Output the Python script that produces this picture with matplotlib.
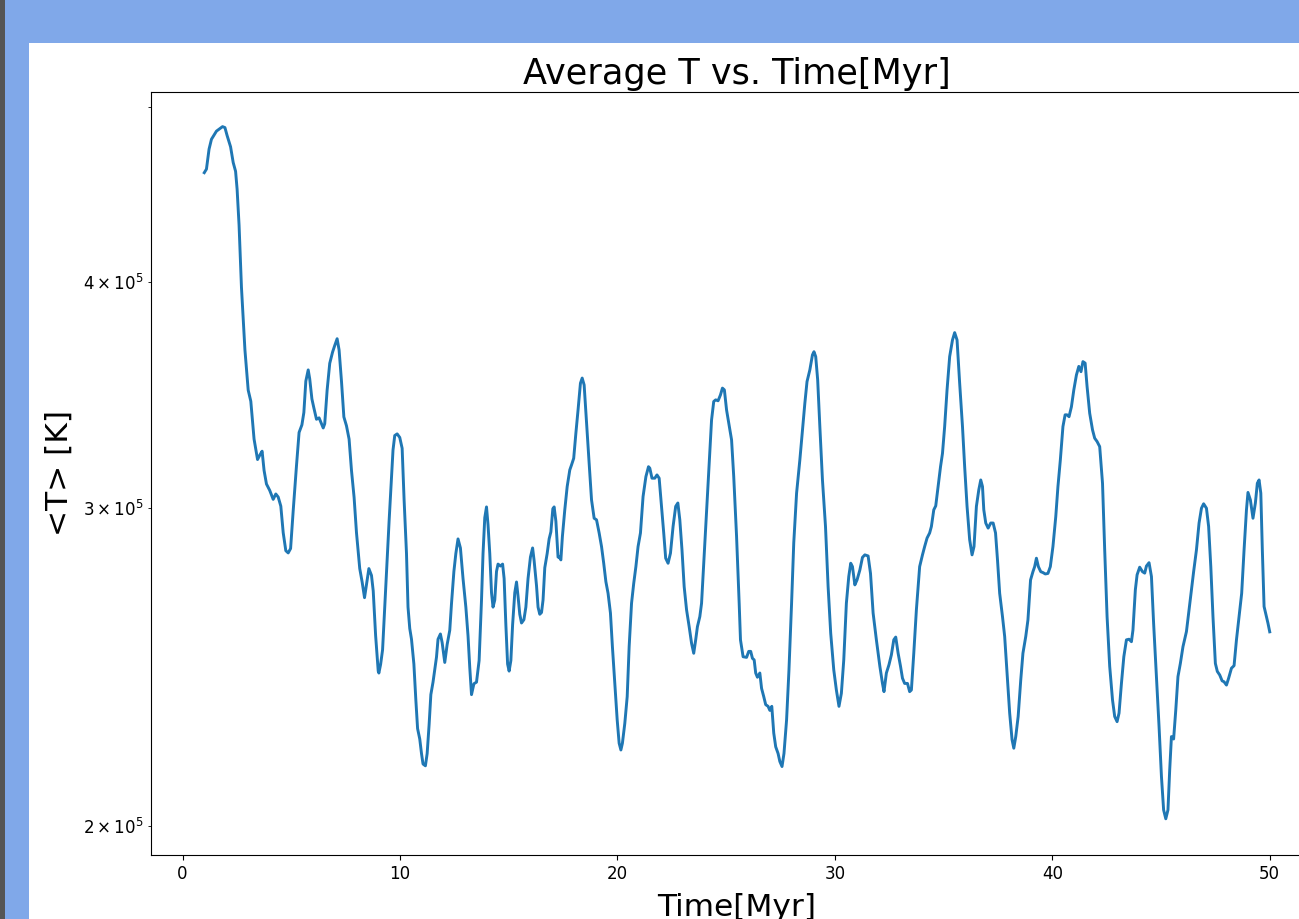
import numpy as np
import matplotlib
matplotlib.use("Agg")
import matplotlib.pyplot as plt
from matplotlib.patches import Rectangle

# time [Myr] and mean temperature [10^3 K]
time_myr = [
    1.00, 1.10, 1.22, 1.33, 1.56, 1.84, 1.95, 2.05, 2.21, 2.33, 2.44, 2.51, 2.60, 2.71, 2.87,
    3.02, 3.14, 3.29, 3.45, 3.56, 3.66, 3.75, 3.86, 4.01, 4.17, 4.29, 4.40, 4.52, 4.63, 4.75,
    4.86, 4.97, 5.09, 5.24, 5.36, 5.49, 5.58, 5.67, 5.78, 5.85, 5.95, 6.04, 6.16, 6.28, 6.39,
    6.47, 6.54, 6.65, 6.77, 6.90, 7.00, 7.11, 7.20, 7.31, 7.42, 7.54, 7.66, 7.77, 7.89, 8.00,
    8.15, 8.26, 8.37, 8.46, 8.57, 8.69, 8.77, 8.88, 9.00, 9.03, 9.11, 9.20, 9.30, 9.41, 9.50,
    9.61, 9.68, 9.76, 9.87, 9.99, 10.10, 10.19, 10.30, 10.37, 10.45, 10.53, 10.64, 10.73, 10.81,
    10.91, 10.99, 11.06, 11.17, 11.25, 11.34, 11.42, 11.52, 11.60, 11.68, 11.75, 11.86, 11.94,
    12.06, 12.17, 12.29, 12.37, 12.48, 12.57, 12.67, 12.78, 12.90, 13.03, 13.13, 13.21, 13.29,
    13.40, 13.52, 13.64, 13.75, 13.82, 13.90, 13.98, 14.05, 14.13, 14.21, 14.28, 14.36, 14.44,
    14.51, 14.62, 14.72, 14.79, 14.87, 14.95, 15.02, 15.10, 15.18, 15.28, 15.36, 15.43, 15.51,
    15.59, 15.70, 15.79, 15.89, 16.00, 16.10, 16.17, 16.28, 16.35, 16.43, 16.51, 16.58, 16.66,
    16.77, 16.86, 16.94, 17.03, 17.09, 17.17, 17.27, 17.32, 17.40, 17.47, 17.58, 17.69, 17.81,
    17.89, 17.99, 18.09, 18.19, 18.30, 18.38, 18.47, 18.58, 18.70, 18.81, 18.93, 19.04, 19.16,
    19.27, 19.37, 19.47, 19.57, 19.68, 19.77, 19.88, 19.99, 20.08, 20.16, 20.23, 20.34, 20.45,
    20.54, 20.65, 20.75, 20.85, 20.95, 21.06, 21.18, 21.31, 21.43, 21.49, 21.59, 21.72, 21.82,
    21.92, 22.03, 22.13, 22.22, 22.33, 22.44, 22.56, 22.68, 22.78, 22.87, 22.97, 23.07, 23.18,
    23.30, 23.41, 23.51, 23.60, 23.68, 23.79, 23.87, 23.97, 24.10, 24.22, 24.33, 24.43, 24.52,
    24.63, 24.74, 24.83, 24.92, 25.02, 25.12, 25.25, 25.35, 25.48, 25.60, 25.66, 25.78, 25.94,
    26.04, 26.13, 26.21, 26.29, 26.36, 26.44, 26.55, 26.63, 26.73, 26.82, 26.93, 27.01, 27.10,
    27.19, 27.28, 27.39, 27.47, 27.57, 27.66, 27.78, 27.89, 28.01, 28.11, 28.24, 28.39, 28.51,
    28.62, 28.72, 28.85, 28.97, 29.04, 29.12, 29.21, 29.31, 29.43, 29.57, 29.69, 29.81, 29.95,
    30.07, 30.19, 30.30, 30.41, 30.53, 30.64, 30.73, 30.81, 30.92, 31.02, 31.15, 31.27, 31.38,
    31.53, 31.64, 31.76, 31.91, 32.07, 32.19, 32.26, 32.37, 32.49, 32.60, 32.71, 32.80, 32.91,
    33.02, 33.11, 33.21, 33.34, 33.44, 33.52, 33.63, 33.75, 33.90, 34.03, 34.13, 34.24, 34.36,
    34.44, 34.55, 34.64, 34.75, 34.86, 34.95, 35.05, 35.16, 35.28, 35.41, 35.51, 35.62, 35.74,
    35.87, 35.97, 36.08, 36.20, 36.31, 36.40, 36.51, 36.62, 36.71, 36.79, 36.85, 36.94, 37.05,
    37.17, 37.28, 37.39, 37.48, 37.58, 37.71, 37.81, 37.92, 38.04, 38.15, 38.23, 38.32, 38.43,
    38.55, 38.65, 38.78, 38.88, 39.00, 39.11, 39.19, 39.27, 39.36, 39.47, 39.57, 39.68, 39.80,
    39.91, 40.03, 40.16, 40.26, 40.37, 40.49, 40.59, 40.68, 40.77, 40.88, 40.99, 41.11, 41.22,
    41.32, 41.41, 41.51, 41.60, 41.72, 41.85, 41.95, 42.06, 42.18, 42.31, 42.41, 42.52, 42.64,
    42.77, 42.87, 42.98, 43.07, 43.18, 43.29, 43.41, 43.53, 43.64, 43.71, 43.82, 43.90, 44.02,
    44.15, 44.25, 44.33, 44.45, 44.56, 44.66, 44.79, 44.91, 45.02, 45.12, 45.22, 45.32, 45.40,
    45.48, 45.58, 45.68, 45.78, 45.89, 46.01, 46.17, 46.29, 46.40, 46.50, 46.63, 46.75, 46.86,
    46.96, 47.09, 47.19, 47.29, 47.39, 47.50, 47.59, 47.70, 47.81, 47.90, 48.01, 48.11, 48.24,
    48.36, 48.47, 48.59, 48.71, 48.82, 48.93, 49.00, 49.11, 49.23, 49.34, 49.43, 49.51, 49.59,
    49.66, 49.74, 49.85, 49.92, 50.00,
]
temp_kK = [
    459.8, 461.9, 473.8, 479.8, 484.8, 487.6, 487.0, 482.1, 475.2, 465.8, 460.6, 450.2, 430.1, 397.3, 366.8,
    348.5, 343.6, 327.4, 319.0, 320.9, 322.4, 314.6, 309.2, 306.7, 303.2, 305.3, 304.1, 300.6, 290.6, 284.0,
    283.2, 284.8, 298.9, 316.4, 330.2, 333.4, 338.7, 352.5, 357.6, 353.5, 344.6, 340.7, 335.8, 336.4, 333.9,
    332.1, 333.9, 348.5, 360.6, 365.8, 368.9, 372.1, 366.8, 352.5, 336.8, 333.0, 327.4, 314.6, 304.0, 290.6,
    277.6, 272.9, 267.5, 272.1, 277.6, 275.2, 269.8, 254.9, 243.6, 243.0, 245.7, 250.3, 264.3, 280.4, 294.9,
    311.4, 322.9, 328.9, 329.6, 328.1, 323.6, 303.0, 283.0, 264.3, 257.2, 253.7, 245.8, 234.8, 226.4,
    223.4, 219.3, 216.4, 215.9, 219.3, 227.5, 236.4, 240.2, 244.1, 248.0, 253.7, 255.4, 252.6,
    246.3, 252.0, 256.6, 265.5, 276.6, 283.0, 288.3, 285.0, 274.1, 264.3, 254.8, 244.7, 236.4,
    239.7, 240.2, 246.9, 266.7, 283.0, 296.2, 300.3, 293.5, 283.0, 269.2, 264.3, 266.7, 276.6,
    279.2, 278.5, 279.2, 274.1, 258.4, 245.8, 243.6, 246.9, 258.4, 269.2, 272.9, 268.0, 261.9,
    259.0, 260.1, 264.3, 274.1, 281.7, 285.0, 280.4, 271.6, 264.3, 261.9, 262.5, 266.7, 277.9,
    283.0, 288.3, 290.9, 299.6, 300.3, 294.9, 281.7, 281.8, 280.7, 289.2, 299.2, 308.2, 314.8,
    316.8, 319.5, 329.9, 339.8, 351.6, 353.9, 350.8, 334.1, 317.5, 303.0, 296.0, 295.4, 290.5,
    285.5, 279.5, 273.0, 269.0, 262.3, 251.3, 239.8, 228.9, 222.2, 220.3, 222.2, 227.9, 235.8,
    251.3, 265.6, 272.4, 278.3, 285.5, 290.5, 304.3, 312.1, 316.1, 315.5, 311.5, 311.5, 312.8,
    311.5, 300.5, 290.5, 281.3, 279.5, 283.1, 292.9, 300.5, 301.8, 295.4, 284.3, 271.3, 263.4,
    257.8, 252.4, 249.2, 253.5, 257.8, 261.1, 265.6, 279.5, 297.9, 317.5, 335.5, 343.5, 344.2,
    343.8, 346.4, 349.4, 348.6, 339.8, 334.1, 327.1, 312.1, 289.2, 265.6, 253.5, 248.1, 247.9,
    249.8, 249.8, 247.6, 247.1, 243.0, 241.7, 243.0, 238.3, 235.8, 233.4, 232.9, 231.7, 232.9,
    225.1, 221.2, 219.3, 217.1, 215.7, 219.3, 228.9, 244.0, 265.6, 286.8, 305.6, 318.8, 331.3,
    342.7, 352.3, 357.6, 364.5, 366.0, 363.7, 353.1, 332.7, 310.8, 292.9, 271.3, 255.6, 244.0,
    237.8, 232.9, 236.8, 247.1, 265.6, 274.8, 279.5, 278.3, 271.9, 273.6, 277.1, 281.6, 282.5,
    282.1, 275.9, 262.3, 253.5, 245.1, 239.8, 237.3, 243.0, 245.6, 248.7, 253.5, 254.4, 249.2,
    245.1, 241.4, 239.8, 239.8, 237.3, 237.8, 249.2, 263.4, 278.3, 282.5, 285.5, 288.6, 290.5,
    292.9, 299.2, 300.7, 308.2, 316.1, 321.5, 332.7, 348.6, 363.7, 371.5, 375.0, 371.5, 351.6,
    332.7, 316.1, 300.5, 288.0, 282.5, 285.5, 300.5, 306.9, 310.8, 308.2, 299.2, 294.2, 292.3,
    294.2, 294.2, 290.5, 280.7, 269.0, 261.1, 254.6, 243.0, 230.9, 223.2, 220.8, 224.1, 229.9,
    240.9, 249.2, 254.6, 260.0, 273.6, 276.5, 278.3, 281.3, 278.3, 276.5, 276.2, 275.7, 275.9,
    278.3, 285.5, 296.6, 308.2, 318.8, 332.7, 337.7, 337.7, 336.9, 341.2, 348.6, 355.3, 359.2,
    356.8, 361.4, 360.7, 350.1, 338.4, 331.3, 327.8, 326.4, 324.3, 309.5, 284.3, 261.1, 245.1,
    234.8, 229.9, 228.4, 230.9, 239.8, 248.1, 253.5, 253.7, 252.9, 256.7, 270.2, 275.4, 278.1,
    276.5, 276.0, 278.5, 279.7, 274.8, 258.9, 241.9, 227.0, 213.0, 204.1, 201.8, 204.1, 214.8,
    224.1, 223.4, 231.9, 241.9, 246.0, 251.3, 256.2, 263.4, 270.2, 276.5, 284.3, 294.2, 299.8,
    301.5, 299.8, 292.9, 278.3, 261.1, 246.0, 243.5, 242.4, 240.6, 240.3, 239.3, 241.4, 244.5,
    245.3, 253.5, 261.1, 269.0, 284.3, 299.2, 305.9, 303.0, 296.0, 301.8, 309.5, 310.8, 305.6,
    284.3, 264.5, 261.1, 258.9, 256.1,
]

time_myr = np.array(time_myr)
temp = np.array(temp_kK) * 1e3

fig = plt.figure(figsize=(12.99, 9.19), dpi=100)

# screenshot frame around the figure
frame_blue = '#80a8e9'
fig.add_artist(Rectangle((0, 0), 5 / 1299, 1, transform=fig.transFigure,
                         facecolor='#555555', edgecolor='none'))
fig.add_artist(Rectangle((5 / 1299, 1 - 43 / 919), 1, 43 / 919, transform=fig.transFigure,
                         facecolor=frame_blue, edgecolor='none'))
fig.add_artist(Rectangle((5 / 1299, 0), 24 / 1299, 1, transform=fig.transFigure,
                         facecolor=frame_blue, edgecolor='none'))

ax = fig.add_axes([151 / 1299, 1 - 855 / 919, 1172 / 1299, 763 / 919])
ax.plot(time_myr, temp, color='#1f77b4', linewidth=2.1)
ax.set_yscale('log')
ax.set_xlim(-1.45, 52.45)
ax.set_ylim(1.927e5, 5.096e5)

ax.set_title("Average T vs. Time[Myr]", fontsize=25.3)
ax.set_xlabel("Time[Myr]", fontsize=22.5, labelpad=7.5)
ax.set_ylabel("<T> [K]", fontsize=22.5, labelpad=6.5)
ax.tick_params(axis='both', which='both', labelsize=12)

fig.savefig("out.png", dpi=100)
